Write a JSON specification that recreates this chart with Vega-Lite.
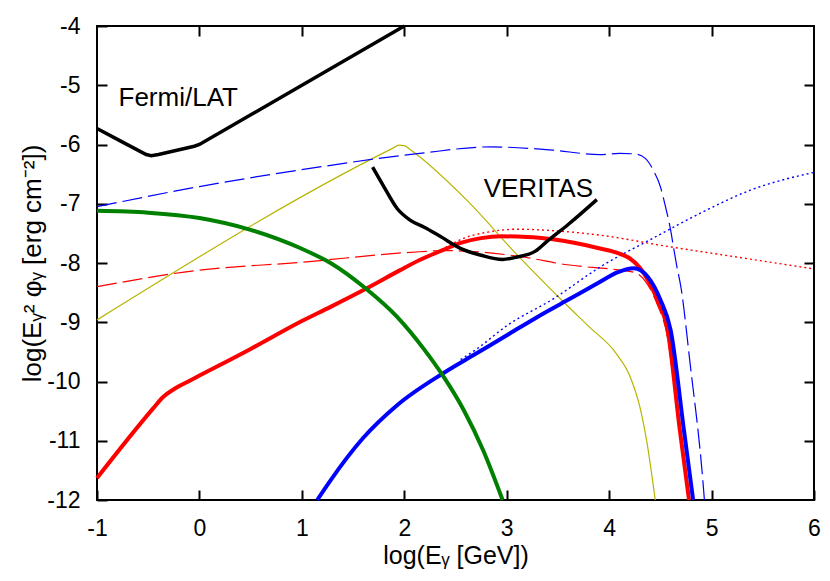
{
  "$schema": "https://vega.github.io/schema/vega-lite/v6.json",
  "width": 717,
  "height": 474,
  "autosize": "none",
  "padding": {"left": 97, "top": 26, "right": 16, "bottom": 81},
  "background": "white",
  "config": {
    "view": {"stroke": "black", "strokeWidth": 2},
    "font": "Liberation Sans"
  },
  "datasets": {
    "fermi": [
      {"x": -1, "y": -5.73}, {"x": -0.75, "y": -5.96}, {"x": -0.52, "y": -6.17}, {"x": -0.47, "y": -6.19},
      {"x": -0.4, "y": -6.17}, {"x": -0.05, "y": -6.03}, {"x": 0, "y": -6.0}, {"x": 2, "y": -4.0}
    ],
    "veritas": [
      {"x": 1.69, "y": -6.38}, {"x": 1.8, "y": -6.71}, {"x": 1.93, "y": -7.08}, {"x": 2.06, "y": -7.28},
      {"x": 2.2, "y": -7.4}, {"x": 2.35, "y": -7.55}, {"x": 2.57, "y": -7.77}, {"x": 2.75, "y": -7.87},
      {"x": 2.96, "y": -7.94}, {"x": 3.1, "y": -7.9}, {"x": 3.28, "y": -7.8}, {"x": 3.39, "y": -7.64},
      {"x": 3.6, "y": -7.35}, {"x": 3.88, "y": -6.93}
    ],
    "green": [
      {"x": -1, "y": -7.12}, {"x": -0.5, "y": -7.15}, {"x": 0, "y": -7.24}, {"x": 0.5, "y": -7.44},
      {"x": 1.0, "y": -7.76}, {"x": 1.28, "y": -8.0}, {"x": 1.63, "y": -8.44}, {"x": 1.93, "y": -8.91},
      {"x": 2.19, "y": -9.45}, {"x": 2.38, "y": -9.91}, {"x": 2.58, "y": -10.48}, {"x": 2.77, "y": -11.16},
      {"x": 2.96, "y": -12.0}
    ],
    "red": [
      {"x": -1, "y": -11.63}, {"x": -0.45, "y": -10.45}, {"x": -0.36, "y": -10.27}, {"x": -0.25, "y": -10.13},
      {"x": -0.1, "y": -9.99}, {"x": 0, "y": -9.9}, {"x": 0.5, "y": -9.45}, {"x": 1.0, "y": -8.98},
      {"x": 1.28, "y": -8.74}, {"x": 1.63, "y": -8.43}, {"x": 1.96, "y": -8.12}, {"x": 2.15, "y": -7.95},
      {"x": 2.38, "y": -7.78}, {"x": 2.55, "y": -7.66}, {"x": 2.75, "y": -7.58}, {"x": 2.95, "y": -7.55},
      {"x": 3.2, "y": -7.56}, {"x": 3.45, "y": -7.6}, {"x": 3.9, "y": -7.75}, {"x": 4.1, "y": -7.84},
      {"x": 4.2, "y": -7.92}, {"x": 4.3, "y": -8.08}, {"x": 4.38, "y": -8.29}, {"x": 4.47, "y": -8.62},
      {"x": 4.57, "y": -9.13}, {"x": 4.69, "y": -10.82}, {"x": 4.78, "y": -12.0}
    ],
    "blue": [
      {"x": 1.15, "y": -12.0}, {"x": 1.275, "y": -11.68}, {"x": 1.6, "y": -10.95}, {"x": 1.93, "y": -10.4},
      {"x": 2.38, "y": -9.86}, {"x": 2.71, "y": -9.52}, {"x": 3.03, "y": -9.19}, {"x": 3.3, "y": -8.91},
      {"x": 3.59, "y": -8.63}, {"x": 3.9, "y": -8.33}, {"x": 4.08, "y": -8.16}, {"x": 4.24, "y": -8.09},
      {"x": 4.38, "y": -8.24}, {"x": 4.5, "y": -8.62}, {"x": 4.6, "y": -9.13}, {"x": 4.73, "y": -10.82},
      {"x": 4.82, "y": -12.0}
    ],
    "bluedash": [
      {"x": -1, "y": -7.05}, {"x": 0, "y": -6.71}, {"x": 0.98, "y": -6.43}, {"x": 2.15, "y": -6.15},
      {"x": 2.84, "y": -6.04}, {"x": 3.42, "y": -6.09}, {"x": 3.91, "y": -6.17}, {"x": 4.1, "y": -6.15},
      {"x": 4.25, "y": -6.16}, {"x": 4.35, "y": -6.23}, {"x": 4.43, "y": -6.43}, {"x": 4.5, "y": -6.71},
      {"x": 4.55, "y": -7.05}, {"x": 4.6, "y": -7.44}, {"x": 4.63, "y": -7.75}, {"x": 4.66, "y": -8.05},
      {"x": 4.7, "y": -8.4}, {"x": 4.79, "y": -9.69}, {"x": 4.92, "y": -11.78}, {"x": 4.93, "y": -12.0}
    ],
    "reddash": [
      {"x": -1, "y": -8.4}, {"x": 0, "y": -8.12}, {"x": 0.98, "y": -7.99}, {"x": 2.15, "y": -7.81},
      {"x": 2.4, "y": -7.79}, {"x": 3.13, "y": -7.89}, {"x": 3.59, "y": -8.03}, {"x": 4.1, "y": -8.12},
      {"x": 4.25, "y": -8.16}, {"x": 4.35, "y": -8.3}, {"x": 4.47, "y": -8.7}, {"x": 4.57, "y": -9.25},
      {"x": 4.69, "y": -10.9}, {"x": 4.78, "y": -12.0}
    ],
    "reddot": [
      {"x": 2.4, "y": -7.74}, {"x": 2.6, "y": -7.57}, {"x": 2.81, "y": -7.48}, {"x": 3.1, "y": -7.43},
      {"x": 3.5, "y": -7.46}, {"x": 3.91, "y": -7.53}, {"x": 4.57, "y": -7.72}, {"x": 5.21, "y": -7.89},
      {"x": 6.0, "y": -8.1}
    ],
    "bluedot": [
      {"x": 2.55, "y": -9.63}, {"x": 2.7, "y": -9.46}, {"x": 3.0, "y": -9.06}, {"x": 3.46, "y": -8.6},
      {"x": 3.91, "y": -8.07}, {"x": 4.43, "y": -7.58}, {"x": 4.89, "y": -7.16}, {"x": 5.38, "y": -6.77},
      {"x": 6.0, "y": -6.47}
    ],
    "yellow": [
      {"x": -1, "y": -8.96}, {"x": 1.88, "y": -6.07}, {"x": 1.95, "y": -6.01}, {"x": 2.0, "y": -6.02},
      {"x": 2.06, "y": -6.09}, {"x": 2.61, "y": -6.94}, {"x": 3.1, "y": -7.86}, {"x": 3.55, "y": -8.65},
      {"x": 3.8, "y": -9.07}, {"x": 4.07, "y": -9.53}, {"x": 4.2, "y": -9.9}, {"x": 4.3, "y": -10.43},
      {"x": 4.37, "y": -11.04}, {"x": 4.45, "y": -12.0}
    ],
    "labels": [
      {"label": "Fermi/LAT", "x": -0.79, "y": -5.35},
      {"label": "VERITAS", "x": 2.775, "y": -6.88}
    ]
  },
  "layer": [
    {
      "data": {"name": "yellow"},
      "mark": {"type": "line", "stroke": "#b8b400", "strokeWidth": 1.2, "interpolate": "monotone"},
      "encoding": {
        "x": {"field": "x", "type": "quantitative", "scale": {"domain": [-1, 6], "nice": false, "zero": false},
          "axis": {"orient": "bottom", "offset": -10, "values": [-1, 0, 1, 2, 3, 4, 5, 6], "ticks": true, "tickSize": 10, "tickWidth": 2, "tickColor": "black", "domain": false, "grid": false,
            "labelFontSize": 23, "labelFont": "Liberation Sans", "labelColor": "black", "labelPadding": 17, "labelExpr": "toString(datum.value)", "labelFlush": false, "labelOverlap": false,
            "title": "log(Eᵧ [GeV])", "titleFontSize": 25, "titleFont": "Liberation Sans", "titleFontWeight": "normal", "titleColor": "black", "titlePadding": 3}},
        "y": {"field": "y", "type": "quantitative", "scale": {"domain": [-12, -4], "nice": false, "zero": false},
          "axis": {"orient": "left", "offset": -10, "values": [-12, -11, -10, -9, -8, -7, -6, -5, -4], "ticks": true, "tickSize": 10, "tickWidth": 2, "tickColor": "black", "domain": false, "grid": false,
            "labelFontSize": 23, "labelFont": "Liberation Sans", "labelColor": "black", "labelPadding": 17, "labelExpr": "toString(datum.value)", "labelFlush": false, "labelOverlap": false,
            "title": "log(Eᵧ² φᵧ [erg cm⁻²])", "titleFontSize": 26, "titleFont": "Liberation Sans", "titleFontWeight": "normal", "titleColor": "black", "titlePadding": 1}}
      }
    },
    {
      "data": {"name": "reddash"},
      "mark": {"type": "line", "stroke": "#ff0000", "strokeWidth": 1.2, "strokeDash": [20, 6], "interpolate": "monotone"},
      "encoding": {
        "x": {"field": "x", "type": "quantitative", "scale": {"domain": [-1, 6], "nice": false, "zero": false},
          "axis": {"orient": "top", "offset": -10, "values": [0, 1, 2, 3, 4, 5], "ticks": true, "tickSize": 10, "tickWidth": 2, "tickColor": "black", "domain": false, "grid": false, "labels": false, "title": null}},
        "y": {"field": "y", "type": "quantitative", "scale": {"domain": [-12, -4], "nice": false, "zero": false},
          "axis": {"orient": "right", "offset": -10, "values": [-11, -10, -9, -8, -7, -6, -5], "ticks": true, "tickSize": 10, "tickWidth": 2, "tickColor": "black", "domain": false, "grid": false, "labels": false, "title": null}}
      }
    },
    {
      "data": {"name": "bluedash"},
      "mark": {"type": "line", "stroke": "#0000ff", "strokeWidth": 1.2, "strokeDash": [20, 6], "interpolate": "monotone"},
      "encoding": {
        "x": {"field": "x", "type": "quantitative", "scale": {"domain": [-1, 6], "nice": false, "zero": false}, "axis": null},
        "y": {"field": "y", "type": "quantitative", "scale": {"domain": [-12, -4], "nice": false, "zero": false}, "axis": null}
      }
    },
    {
      "data": {"name": "reddot"},
      "mark": {"type": "line", "stroke": "#ff0000", "strokeWidth": 1.4, "strokeDash": [2, 3], "interpolate": "monotone"},
      "encoding": {
        "x": {"field": "x", "type": "quantitative", "scale": {"domain": [-1, 6], "nice": false, "zero": false}, "axis": null},
        "y": {"field": "y", "type": "quantitative", "scale": {"domain": [-12, -4], "nice": false, "zero": false}, "axis": null}
      }
    },
    {
      "data": {"name": "bluedot"},
      "mark": {"type": "line", "stroke": "#0000ff", "strokeWidth": 1.4, "strokeDash": [2, 3], "interpolate": "monotone"},
      "encoding": {
        "x": {"field": "x", "type": "quantitative", "scale": {"domain": [-1, 6], "nice": false, "zero": false}, "axis": null},
        "y": {"field": "y", "type": "quantitative", "scale": {"domain": [-12, -4], "nice": false, "zero": false}, "axis": null}
      }
    },
    {
      "data": {"name": "red"},
      "mark": {"type": "line", "stroke": "#ff0000", "strokeWidth": 4, "interpolate": "monotone"},
      "encoding": {
        "x": {"field": "x", "type": "quantitative", "scale": {"domain": [-1, 6], "nice": false, "zero": false}, "axis": null},
        "y": {"field": "y", "type": "quantitative", "scale": {"domain": [-12, -4], "nice": false, "zero": false}, "axis": null}
      }
    },
    {
      "data": {"name": "blue"},
      "mark": {"type": "line", "stroke": "#0000ff", "strokeWidth": 4, "interpolate": "monotone"},
      "encoding": {
        "x": {"field": "x", "type": "quantitative", "scale": {"domain": [-1, 6], "nice": false, "zero": false}, "axis": null},
        "y": {"field": "y", "type": "quantitative", "scale": {"domain": [-12, -4], "nice": false, "zero": false}, "axis": null}
      }
    },
    {
      "data": {"name": "green"},
      "mark": {"type": "line", "stroke": "#008000", "strokeWidth": 4, "interpolate": "monotone"},
      "encoding": {
        "x": {"field": "x", "type": "quantitative", "scale": {"domain": [-1, 6], "nice": false, "zero": false}, "axis": null},
        "y": {"field": "y", "type": "quantitative", "scale": {"domain": [-12, -4], "nice": false, "zero": false}, "axis": null}
      }
    },
    {
      "data": {"name": "fermi"},
      "mark": {"type": "line", "stroke": "#000000", "strokeWidth": 3.5},
      "encoding": {
        "x": {"field": "x", "type": "quantitative", "scale": {"domain": [-1, 6], "nice": false, "zero": false}, "axis": null},
        "y": {"field": "y", "type": "quantitative", "scale": {"domain": [-12, -4], "nice": false, "zero": false}, "axis": null}
      }
    },
    {
      "data": {"name": "veritas"},
      "mark": {"type": "line", "stroke": "#000000", "strokeWidth": 3.5, "interpolate": "monotone"},
      "encoding": {
        "x": {"field": "x", "type": "quantitative", "scale": {"domain": [-1, 6], "nice": false, "zero": false}, "axis": null},
        "y": {"field": "y", "type": "quantitative", "scale": {"domain": [-12, -4], "nice": false, "zero": false}, "axis": null}
      }
    },
    {
      "data": {"name": "labels"},
      "mark": {"type": "text", "align": "left", "baseline": "alphabetic", "fontSize": 26, "font": "Liberation Sans", "color": "black"},
      "encoding": {
        "text": {"field": "label"},
        "x": {"field": "x", "type": "quantitative", "scale": {"domain": [-1, 6], "nice": false, "zero": false}, "axis": null},
        "y": {"field": "y", "type": "quantitative", "scale": {"domain": [-12, -4], "nice": false, "zero": false}, "axis": null}
      }
    }
  ],
  "resolve": {"axis": {"x": "independent", "y": "independent"}}
}
